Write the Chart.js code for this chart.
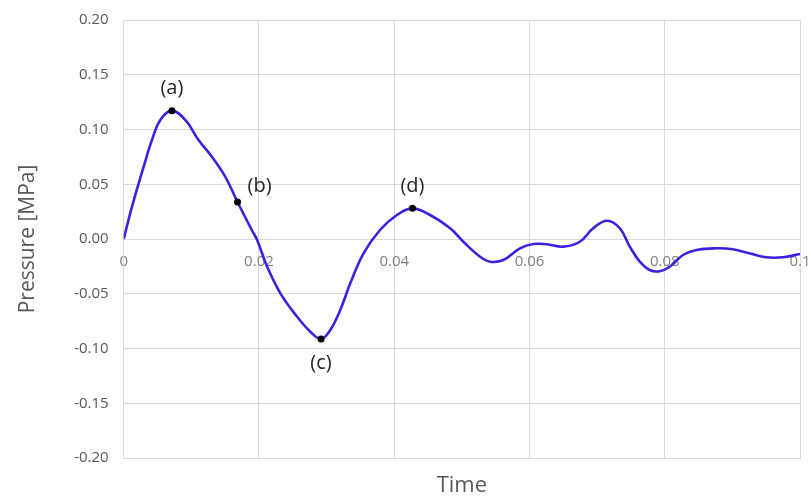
<!DOCTYPE html>
<html>
<head>
<meta charset="utf-8">
<script src="https://cdn.jsdelivr.net/npm/chart.js@4"></script>
<style>
  html, body { margin: 0; padding: 0; background: #fff; }
  #wrap { width: 811px; height: 497px; }
</style>
</head>
<body>
<div id="wrap"><canvas id="pressureChart"></canvas></div>
<script>
// time [s] and pressure [MPa]
const times = [0, 0.00123, 0.00295, 0.00418, 0.00542, 0.00713, 0.00911, 0.01107, 0.01303, 0.01501,
  0.01683, 0.01894, 0.01973, 0.02121, 0.02317, 0.02564, 0.0276, 0.02918, 0.03055, 0.03203,
  0.0335, 0.03547, 0.0379, 0.0404, 0.0427, 0.04531, 0.04827, 0.05023, 0.05269, 0.05417,
  0.05613, 0.0586, 0.06056, 0.06254, 0.06499, 0.06745, 0.06942, 0.07148, 0.07336, 0.07483,
  0.07631, 0.07779, 0.07926, 0.08074, 0.0827, 0.08468, 0.08763, 0.09008, 0.09255, 0.09501,
  0.09746, 0.1];
const pressures = [0, 0.0295, 0.066, 0.0904, 0.1087, 0.1172, 0.1087, 0.0904, 0.0752, 0.0569,
  0.0338, 0.0082, -0.0009, -0.0253, -0.0496, -0.071, -0.0847, -0.0913, -0.0831, -0.0648,
  -0.0405, -0.0131, 0.0082, 0.0219, 0.028, 0.0219, 0.0098, -0.0025, -0.0162, -0.0207,
  -0.0192, -0.0085, -0.0046, -0.0048, -0.007, -0.0025, 0.0098, 0.0167, 0.0098, -0.007,
  -0.0207, -0.0283, -0.0294, -0.0253, -0.0146, -0.01, -0.0085, -0.0094, -0.0131, -0.0167,
  -0.0167, -0.0137];

// marked points (a)-(d)
const markLabels = ['(a)', '(b)', '(c)', '(d)'];
const markTimes = [0.00713, 0.01683, 0.02918, 0.0427];
const markPressures = [0.1172, 0.0338, -0.0913, 0.028];

const xTickLabels = ['0', '0.02', '0.04', '0.06', '0.08', '0.1'];
const yTickLabels = ['-0.20', '-0.15', '-0.10', '-0.05', '0.00', '0.05', '0.10', '0.15', '0.20'];

const FONT = "'Open Sans', 'Noto Sans', sans-serif";
const GRID = '#d9d9d9';

// text offsets for the (a)-(d) labels relative to their point
const labelOffsets = [[0, -22], [22, -16], [0, 24], [0, -22]];

const markLabelPlugin = {
  id: 'markLabels',
  afterDatasetsDraw(chart) {
    const ctx = chart.ctx;
    const xs = chart.scales.x, ys = chart.scales.y;
    ctx.save();
    ctx.font = "20px " + FONT;
    ctx.fillStyle = '#262626';
    ctx.textAlign = 'center';
    ctx.textBaseline = 'middle';
    markLabels.forEach((txt, i) => {
      const px = xs.getPixelForValue(markTimes[i]) + labelOffsets[i][0];
      const py = ys.getPixelForValue(markPressures[i]) + labelOffsets[i][1];
      ctx.fillText(txt, px, py);
    });
    ctx.restore();
  }
};

const ctx = document.getElementById('pressureChart').getContext('2d');
new Chart(ctx, {
  type: 'line',
  data: {
    datasets: [
      {
        label: 'marks',
        data: markTimes.map((t, i) => ({ x: t, y: markPressures[i] })),
        showLine: false,
        pointRadius: 3.5,
        pointBackgroundColor: '#000',
        pointBorderColor: '#000',
        pointBorderWidth: 0
      },
      {
        label: 'Pressure',
        data: times.map((t, i) => ({ x: t, y: pressures[i] })),
        borderColor: '#3b22df',
        borderWidth: 2.6,
        pointRadius: 0,
        tension: 0.4,
        fill: false
      }
    ]
  },
  options: {
    responsive: true,
    maintainAspectRatio: false,
    animation: false,
    layout: { padding: { left: 5, right: 11, top: 20, bottom: 0 } },
    plugins: { legend: { display: false }, tooltip: { enabled: false } },
    scales: {
      x: {
        type: 'linear',
        position: 'bottom',
        min: 0,
        max: 0.1,
        ticks: { display: false, stepSize: 0.02, padding: 0 },
        grid: { color: GRID, drawTicks: false, lineWidth: 1 },
        border: { color: GRID },
        title: {
          display: true,
          text: 'Time',
          color: '#595959',
          font: { family: FONT, size: 22, lineHeight: 1 },
          padding: { top: 17, bottom: 0 }
        }
      },
      x2: {
        type: 'linear',
        position: { y: 0 },
        min: 0,
        max: 0.1,
        grid: { display: false, drawTicks: true, tickLength: 14 },
        border: { display: false },
        ticks: {
          stepSize: 0.02,
          padding: 0,
          color: '#7f7f7f',
          font: { family: FONT, size: 15 },
          maxRotation: 0,
          callback: (v, i) => xTickLabels[i]
        }
      },
      y: {
        min: -0.2,
        max: 0.2,
        ticks: {
          stepSize: 0.05,
          padding: 0,
          color: '#595959',
          font: { family: FONT, size: 15 },
          callback: (v, i) => yTickLabels[i]
        },
        grid: { color: GRID, drawTicks: true, tickLength: 15, tickColor: 'rgba(0,0,0,0)' },
        border: { color: GRID },
        title: {
          display: true,
          text: 'Pressure [MPa]',
          color: '#595959',
          font: { family: FONT, size: 21, lineHeight: 1.2 },
          padding: { top: 10, bottom: 34 }
        }
      }
    }
  },
  plugins: [markLabelPlugin]
});
</script>
</body>
</html>
